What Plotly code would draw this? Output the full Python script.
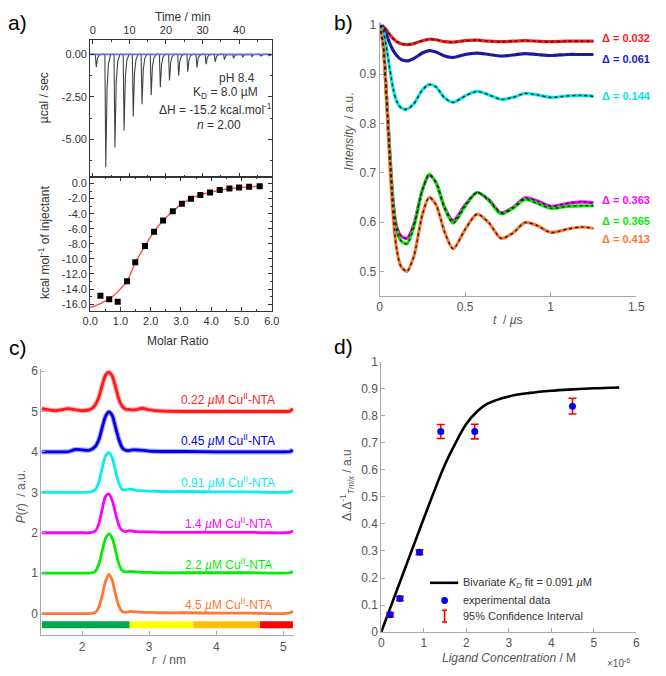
import plotly.graph_objects as go

# ---------------- DATA ----------------
# a) ITC raw thermogram: injection times (min) and peak depths (ucal/sec)
inj_time = [0.7, 3.3, 5.8, 8.3, 10.8, 13.2, 15.7, 18.2, 20.7, 23.2, 25.7, 28.2,
            30.7, 33.2, 35.7, 38.2, 40.7, 43.2, 45.6, 47.9]
inj_depth = [-0.75, -6.65, -5.48, -4.48, -3.66, -2.94, -2.41, -1.93, -1.54, -1.25,
             -1.02, -0.77, -0.58, -0.44, -0.30, -0.23, -0.16, -0.13, -0.10, -0.08]
# a) integrated heats
molar_ratio = [0.34, 0.63, 0.91, 1.22, 1.49, 1.81, 2.11, 2.41, 2.73, 3.03, 3.33,
               3.64, 3.96, 4.28, 4.60, 4.92, 5.25, 5.60]
heat = [-14.9, -15.35, -15.7, -12.97, -10.46, -8.3, -6.4, -4.9, -3.68, -2.68,
        -2.03, -1.51, -1.17, -0.86, -0.65, -0.52, -0.43, -0.35]
fit_ratio = [0.0, 0.18, 0.5, 0.83, 1.04, 1.22, 1.49, 1.81, 2.11, 2.41, 2.73, 3.03,
             3.33, 3.64, 3.96, 4.28, 4.6, 4.92, 5.25, 5.7]
fit_heat = [-16.45, -16.2, -15.6, -14.7, -13.8, -12.97, -10.5, -8.3, -6.4, -4.9,
            -3.7, -2.7, -2.0, -1.5, -1.15, -0.88, -0.68, -0.53, -0.43, -0.33]

# b) DEER time traces
t_us = [0, 0.02, 0.04, 0.06, 0.08, 0.1, 0.125, 0.16, 0.2, 0.25, 0.29, 0.33, 0.38,
        0.43, 0.5, 0.57, 0.64, 0.71, 0.78, 0.85, 0.92, 1.0, 1.1, 1.18, 1.25]
trace_red = [1.0, 0.997, 0.99, 0.98, 0.972, 0.966, 0.962, 0.960, 0.962, 0.968, 0.971,
             0.970, 0.966, 0.965, 0.968, 0.969, 0.967, 0.966, 0.967, 0.968, 0.967,
             0.966, 0.967, 0.967, 0.967]
trace_blue = [1.0, 0.995, 0.98, 0.962, 0.948, 0.938, 0.93, 0.927, 0.932, 0.943, 0.948,
              0.945, 0.937, 0.934, 0.940, 0.943, 0.940, 0.937, 0.939, 0.942, 0.940,
              0.938, 0.940, 0.940, 0.940]
trace_cyan = [1.0, 0.99, 0.955, 0.91, 0.87, 0.845, 0.832, 0.829, 0.84, 0.868, 0.879,
              0.874, 0.852, 0.843, 0.856, 0.865, 0.858, 0.849, 0.853, 0.861, 0.858,
              0.853, 0.856, 0.857, 0.855]
trace_magenta = [1.0, 0.965, 0.86, 0.74, 0.64, 0.59, 0.572, 0.567, 0.595, 0.665, 0.695,
                 0.68, 0.63, 0.603, 0.635, 0.660, 0.645, 0.619, 0.630, 0.649, 0.643,
                 0.632, 0.638, 0.641, 0.639]
trace_green = [1.0, 0.965, 0.86, 0.74, 0.635, 0.582, 0.562, 0.556, 0.59, 0.665, 0.697,
               0.68, 0.628, 0.598, 0.632, 0.660, 0.643, 0.617, 0.628, 0.646, 0.638,
               0.628, 0.632, 0.633, 0.633]
trace_orange = [1.0, 0.96, 0.85, 0.72, 0.61, 0.545, 0.51, 0.500, 0.53, 0.615, 0.650,
                0.635, 0.580, 0.546, 0.585, 0.616, 0.598, 0.567, 0.578, 0.599, 0.593,
                0.579, 0.586, 0.590, 0.587]
delta_labels = ["0.032", "0.061", "0.144", "0.363", "0.365", "0.413"]

# c) distance distributions
r_nm = [1.40, 1.60, 1.80, 1.90, 2.00, 2.10, 2.15, 2.20, 2.25, 2.30, 2.35, 2.40, 2.45,
        2.50, 2.55, 2.60, 2.65, 2.70, 2.75, 2.80, 2.90, 3.00, 3.20, 3.50, 4.00, 4.50,
        4.80, 5.00, 5.10, 5.14]
p_red = [0.07, 0.02, 0.07, 0.04, 0.02, 0.04, 0.08, 0.17, 0.35, 0.65, 0.90, 0.97, 0.88,
         0.60, 0.30, 0.12, 0.06, 0.05, 0.04, 0.04, 0.08, 0.04, 0.01, 0.0, 0.0, 0.0,
         0.0, 0.0, 0.01, 0.07]
p_blue = [0.0, 0.0, 0.01, 0.06, 0.05, 0.04, 0.07, 0.14, 0.30, 0.60, 0.88, 0.99, 0.90,
          0.60, 0.30, 0.10, 0.04, 0.03, 0.05, 0.05, 0.04, 0.02, 0.01, 0.01, 0.0, 0.0,
          0.0, 0.0, 0.01, 0.05]
p_cyan = [0.0, 0.0, 0.0, 0.0, 0.0, 0.005, 0.02, 0.07, 0.25, 0.60, 0.90, 0.98, 0.85,
          0.52, 0.22, 0.07, 0.06, 0.08, 0.07, 0.05, 0.04, 0.03, 0.02, 0.02, 0.01, 0.01,
          0.0, 0.0, 0.01, 0.05]
p_magenta = [0.0, 0.0, 0.0, 0.0, 0.0, 0.0, 0.01, 0.05, 0.22, 0.58, 0.90, 0.96, 0.80,
             0.48, 0.18, 0.05, 0.03, 0.05, 0.04, 0.03, 0.02, 0.02, 0.01, 0.01, 0.01,
             0.01, 0.0, 0.0, 0.01, 0.05]
p_green = [0.0, 0.0, 0.0, 0.0, 0.0, 0.0, 0.01, 0.05, 0.22, 0.55, 0.86, 0.97, 0.86,
           0.55, 0.22, 0.06, 0.03, 0.04, 0.04, 0.03, 0.02, 0.02, 0.01, 0.01, 0.01, 0.01,
           0.0, 0.0, 0.01, 0.04]
p_orange = [0.0, 0.0, 0.0, 0.0, 0.0, 0.0, 0.005, 0.03, 0.16, 0.45, 0.80, 0.97, 0.82,
            0.47, 0.18, 0.05, 0.03, 0.05, 0.05, 0.04, 0.03, 0.03, 0.02, 0.02, 0.01,
            0.01, 0.0, 0.0, 0.02, 0.06]
p_offsets = [5, 4, 3, 2, 1, 0]
conc_labels = ["0.22", "0.45", "0.91", "1.4", "2.2", "4.5"]
bar_edges = [1.40, 2.71, 3.66, 4.65, 5.14]
bar_level = -0.275

# d) titration
lig_conc = [0.21e-6, 0.44e-6, 0.90e-6, 1.40e-6, 2.20e-6, 4.50e-6]
ratio_val = [0.064, 0.124, 0.295, 0.742, 0.742, 0.836]
ratio_err = [0.008, 0.008, 0.009, 0.026, 0.027, 0.029]
fit_conc = [0.0, 0.5e-6, 1.0e-6, 1.5e-6, 1.75e-6, 2.0e-6, 2.25e-6, 2.5e-6, 3.0e-6,
            3.5e-6, 4.0e-6, 4.5e-6, 5.0e-6, 5.6e-6]
fit_ratio_d = [0.0, 0.21, 0.42, 0.62, 0.70, 0.77, 0.815, 0.845, 0.872, 0.885, 0.893,
               0.898, 0.902, 0.905]

# ---------------- STYLE ----------------
W, H = 666, 676
FONT = "Liberation Sans, Arial, sans-serif"
COLS_B = ["#ff1a1a", "#1a1acc", "#00e6e6", "#ff00ff", "#00ee00", "#ff7733"]
COLS_C = ["#ff1a1a", "#0000ee", "#00f0f0", "#ff00ff", "#00ee00", "#ff7733"]
BAR_COLS = ["#00a84f", "#ffff00", "#ffc000", "#ff0000"]


def px(x):
    return x / W


def py(y):
    return 1 - y / H


fig = go.Figure()

# ---- panel a top: thermogram ----
tx, ty = [-0.7], [0.0]
for t, d in zip(inj_time, inj_depth):
    tx += [t, t + 0.25, t + 0.6, t + 1.0, t + 1.6]
    ty += [0.0, d, 0.3 * d, 0.08 * d, 0.0]
tx.append(48.9)
ty.append(0.0)
fig.add_trace(go.Scatter(x=tx, y=ty, mode="lines", line=dict(color="#444", width=1.1),
                         xaxis="x", yaxis="y", showlegend=False))
fig.add_trace(go.Scatter(x=[-0.7, 48.9], y=[0, 0], mode="lines",
                         line=dict(color="#6a6aff", width=1.6),
                         xaxis="x", yaxis="y", showlegend=False))

# ---- panel a bottom: integrated heats ----
fig.add_trace(go.Scatter(x=fit_ratio, y=fit_heat, mode="lines", line_shape="spline",
                         line=dict(color="#ff4d4d", width=1.4),
                         xaxis="x2", yaxis="y2", showlegend=False))
fig.add_trace(go.Scatter(x=molar_ratio, y=heat, mode="markers",
                         marker=dict(symbol="square", size=6, color="black"),
                         xaxis="x2", yaxis="y2", showlegend=False))

# ---- panel b ----
b_traces = [trace_red, trace_blue, trace_cyan, trace_magenta, trace_green, trace_orange]
for vals, col in zip(b_traces, COLS_B):
    fig.add_trace(go.Scatter(x=t_us, y=vals, mode="lines", line_shape="spline",
                             line=dict(color=col, width=3.2, smoothing=0.8),
                             xaxis="x3", yaxis="y3", showlegend=False))
for vals in b_traces:
    fig.add_trace(go.Scatter(x=t_us, y=vals, mode="lines", line_shape="spline",
                             line=dict(color="#222", width=1.4, dash="dot", smoothing=0.8),
                             xaxis="x3", yaxis="y3", showlegend=False))

# ---- panel c ----
c_traces = [p_red, p_blue, p_cyan, p_magenta, p_green, p_orange]
for i, (vals, col, off) in enumerate(zip(c_traces, COLS_C, p_offsets)):
    yv = [v + off for v in vals]
    if i < 2:
        fig.add_trace(go.Scatter(x=r_nm, y=yv, mode="lines", line_shape="spline",
                                 line=dict(color=col, width=5, smoothing=0.7),
                                 opacity=0.35, xaxis="x4", yaxis="y4", showlegend=False))
    fig.add_trace(go.Scatter(x=r_nm, y=yv, mode="lines", line_shape="spline",
                             line=dict(color=col, width=2.8, smoothing=0.7),
                             xaxis="x4", yaxis="y4", showlegend=False))
for j, col in enumerate(BAR_COLS):
    fig.add_trace(go.Scatter(x=[bar_edges[j], bar_edges[j + 1]], y=[bar_level, bar_level],
                             mode="lines", line=dict(color=col, width=7),
                             xaxis="x4", yaxis="y4", showlegend=False))

# ---- panel d ----
fig.add_trace(go.Scatter(x=fit_conc, y=fit_ratio_d, mode="lines", line_shape="spline",
                         line=dict(color="black", width=2.6),
                         xaxis="x5", yaxis="y5", showlegend=False))
fig.add_trace(go.Scatter(x=lig_conc, y=ratio_val, mode="markers",
                         marker=dict(color="rgba(0,0,0,0)", size=1),
                         error_y=dict(type="data", array=ratio_err, color="red",
                                      thickness=1.6, width=4),
                         xaxis="x5", yaxis="y5", showlegend=False))
fig.add_trace(go.Scatter(x=lig_conc, y=ratio_val, mode="markers",
                         marker=dict(color="#0000ff", size=7),
                         xaxis="x5", yaxis="y5", showlegend=False))

# ---------------- AXES ----------------
a_common = dict(showline=True, linecolor="#333", linewidth=1, mirror="allticks",
                ticks="inside", ticklen=4, tickcolor="#333", showgrid=False,
                zeroline=False, tickfont=dict(size=11, color="#333", family=FONT),
                minor=dict(ticks="inside", ticklen=2, tickcolor="#333"))
m_common = dict(showline=True, linecolor="#aaa", linewidth=1, mirror=False,
                ticks="inside", ticklen=4, tickcolor="#aaa", showgrid=False,
                zeroline=False, tickfont=dict(size=12, color="#555", family=FONT))

fig.update_layout(
    xaxis=dict(a_common, domain=[px(84.3), px(270.7)], anchor="y", side="top",
               range=[-0.72, 48.9], tickvals=[0, 10, 20, 30, 40],
               minor=dict(ticks="inside", ticklen=2, tickcolor="#333", dtick=5)),
    yaxis=dict(a_common, domain=[py(173.3), py(33.3)], anchor="x",
               range=[-7.21, 0.87], tickvals=[0, -2.5, -5],
               ticktext=["0.00", "-2.50", "-5.00"],
               minor=dict(ticks="inside", ticklen=2, tickcolor="#333",
                          tickvals=[-1.25, -3.75, -6.25])),
    xaxis2=dict(a_common, domain=[px(84.3), px(270.7)], anchor="y2", range=[0, 6],
                tickvals=[0, 1, 2, 3, 4, 5, 6],
                ticktext=["0.0", "1.0", "2.0", "3.0", "4.0", "5.0", "6.0"],
                minor=dict(ticks="inside", ticklen=2, tickcolor="#333", dtick=0.5)),
    yaxis2=dict(a_common, domain=[py(310), py(173.3)], anchor="x2",
                range=[-16.86, 0.91], tickvals=[0, -2, -4, -6, -8, -10, -12, -14, -16],
                ticktext=["0.0", "-2.0", "-4.0", "-6.0", "-8.0", "-10.0", "-12.0",
                          "-14.0", "-16.0"],
                minor=dict(ticks="inside", ticklen=2, tickcolor="#333", dtick=1)),
    xaxis3=dict(m_common, domain=[px(381.3), px(644.7)], anchor="y3", range=[0, 1.5],
                tickvals=[0, 0.5, 1, 1.5], ticktext=["0", "0.5", "1", "1.5"]),
    yaxis3=dict(m_common, domain=[py(295.1), py(15)], anchor="x3",
                range=[0.45, 1.0066], tickvals=[0.5, 0.6, 0.7, 0.8, 0.9, 1.0],
                ticktext=["0.5", "0.6", "0.7", "0.8", "0.9", "1"]),
    xaxis4=dict(m_common, domain=[px(34.3), px(293)], anchor="y4", range=[1.395, 5.15],
                tickvals=[2, 3, 4, 5]),
    yaxis4=dict(m_common, domain=[py(641.7), py(369.3)], anchor="x4",
                range=[-0.54, 6.06], tickvals=[0, 1, 2, 3, 4, 5, 6]),
    xaxis5=dict(m_common, domain=[px(383), px(644.7)], anchor="y5", range=[0, 6e-6],
                tickvals=[0, 1e-6, 2e-6, 3e-6, 4e-6, 5e-6, 6e-6],
                ticktext=["0", "1", "2", "3", "4", "5", "6"]),
    yaxis5=dict(m_common, domain=[py(638.3), py(362.3)], anchor="x5", range=[0, 1],
                tickvals=[i / 10 for i in range(11)],
                ticktext=["0", "0.1", "0.2", "0.3", "0.4", "0.5", "0.6", "0.7", "0.8",
                          "0.9", "1"]),
)

# ---------------- TEXT ----------------
ann = []


def txt(x, y, s, size=12, color="#333", xanchor="center", angle=0, bold=False):
    if bold:
        s = "<b>" + s + "</b>"
    ann.append(dict(x=px(x), y=py(y), xref="paper", yref="paper", text=s,
                    showarrow=False, xanchor=xanchor, yanchor="middle",
                    textangle=angle, font=dict(size=size, color=color, family=FONT)))


# panel labels
txt(10, 16, "a)", size=21, color="black")
txt(344, 16, "b)", size=21, color="black")
txt(10, 348, "c)", size=21, color="black")
txt(344, 347, "d)", size=21, color="black")

# panel a
txt(180, 10, "Time / min", size=12)
txt(174, 341, "Molar Ratio", size=12)
txt(37, 93, "µcal / sec", size=12, angle=-90)
txt(37, 240, "kcal mol<sup>-1</sup> of injectant", size=12, angle=-90)
txt(235, 72, "pH 8.4", size=12)
txt(223, 88, "K<sub>D</sub> = 8.0 µM", size=12)
txt(213, 104, "ΔH = -15.2 kcal.mol<sup>-1</sup>", size=12)
txt(217, 120, "<i>n</i> = 2.00", size=12)

# panel b
txt(513, 320, "<i>t</i>  / <i>µ</i>s", size=12, color="#555")
txt(350, 127, "<i>Intensity</i>  / a.u.", size=12, color="#555", angle=-90)
b_label_y = [31.7, 52.7, 90.7, 196.7, 218.3, 236.7]
for lab, col, yy in zip(delta_labels, COLS_B, b_label_y):
    txt(608, yy, "Δ = " + lab, size=11, color=col, xanchor="left", bold=True)

# panel c
txt(165, 667, "<i>r</i>  / nm", size=12, color="#555")
txt(13, 500, "<i>P</i>(<i>r</i>)  / a.u.", size=12, color="#555", angle=-90)
c_label_y = [400, 442, 485, 527, 569, 610]
for lab, col, yy in zip(conc_labels, COLS_C, c_label_y):
    txt(226, yy, lab + " <i>µ</i>M Cu<sup>II</sup>-NTA", size=12, color=col)

# panel d
txt(514, 665, "<i>Ligand Concentration</i> / M", size=12, color="#555")
txt(627, 670, "×10<sup>-6</sup>", size=10, color="#555")
txt(348, 488, "Δ.Δ<sup>-1</sup><sub><i>Tmix</i></sub> / a.u", size=12, color="#555",
    angle=-90)
txt(465, 588, "Bivariate <i>K<sub>D</sub></i> fit = 0.091 <i>µ</i>M", size=11,
    color="#333", xanchor="left")
txt(465, 606, "experimental data", size=11, color="#333", xanchor="left")
txt(465, 622, "95% Confidence Interval", size=11, color="#333", xanchor="left")

shapes = [
    dict(type="line", xref="paper", yref="paper", x0=px(433), x1=px(462),
         y0=py(588), y1=py(588), line=dict(color="black", width=2.6)),
    dict(type="circle", xref="paper", yref="paper", x0=px(444.5), x1=px(451.5),
         y0=py(609.5), y1=py(602.5), fillcolor="#0000ff", line=dict(width=0)),
    dict(type="line", xref="paper", yref="paper", x0=px(448), x1=px(448),
         y0=py(616), y1=py(628), line=dict(color="red", width=1.6)),
    dict(type="line", xref="paper", yref="paper", x0=px(445.5), x1=px(450.5),
         y0=py(616), y1=py(616), line=dict(color="red", width=1.6)),
    dict(type="line", xref="paper", yref="paper", x0=px(445.5), x1=px(450.5),
         y0=py(628), y1=py(628), line=dict(color="red", width=1.6)),
]

fig.update_layout(width=W, height=H, margin=dict(l=0, r=0, t=0, b=0),
                  paper_bgcolor="white", plot_bgcolor="white", showlegend=False,
                  annotations=ann, shapes=shapes, font=dict(family=FONT))

fig.write_html("out.html", config={"displayModeBar": False},
               post_script="document.body.style.margin='0px';"
                           "document.documentElement.style.overflow='hidden';")
